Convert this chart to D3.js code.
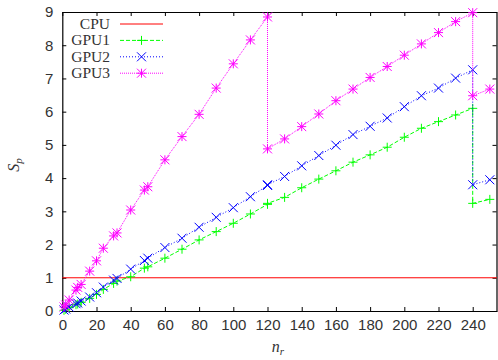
<!DOCTYPE html>
<html>
<head>
<meta charset="utf-8">
<script src="https://cdn.jsdelivr.net/npm/d3@7"></script>
<style>
  body { margin: 0; background: #fff; }
  svg { display: block; font-family: "Liberation Serif", "DejaVu Serif", serif; }
  .axis text { font-size: 15px; fill: #333; }
  .axis path, .axis line { stroke: #000; }
</style>
</head>
<body>
<script>
// speedup vs. number of replicas
const nr = [1, 2, 4, 8, 9, 11, 16, 20, 24, 30, 32, 40, 48, 50, 60, 70, 80, 90, 100, 110, 120,
  120, 130, 140, 150, 160, 170, 180, 190, 200, 210, 220, 230, 240, 240, 250]
const gpu1 = [0.02, 0.05, 0.1, 0.19, 0.21, 0.26, 0.38, 0.5, 0.65, 0.83, 0.9, 1.03, 1.29, 1.33, 1.59, 1.86, 2.14, 2.39, 2.64, 2.92, 3.21,
  3.24, 3.42, 3.71, 3.97, 4.22, 4.48, 4.70, 4.93, 5.23, 5.50, 5.70, 5.90, 6.10, 3.24, 3.36]
const gpu2 = [0.03, 0.06, 0.12, 0.22, 0.24, 0.3, 0.42, 0.55, 0.72, 0.93, 0.98, 1.26, 1.52, 1.59, 1.91, 2.19, 2.52, 2.82, 3.11, 3.44, 3.78,
  3.80, 4.05, 4.37, 4.68, 4.99, 5.31, 5.56, 5.81, 6.15, 6.48, 6.71, 7.01, 7.26, 3.80, 3.95]
const gpu3 = [0.12, 0.18, 0.33, 0.63, 0.71, 0.8, 1.2, 1.51, 1.89, 2.26, 2.35, 3.04, 3.64, 3.74, 4.55, 5.25, 5.92, 6.71, 7.44, 8.16, 8.85,
  4.88, 5.18, 5.55, 5.93, 6.33, 6.68, 7.03, 7.36, 7.70, 8.04, 8.38, 8.71, 8.98, 6.48, 6.68]
const cpu = 1

const xTicks = d3.range(0, 241, 20)
const yTicks = d3.range(0, 10, 1)

const W = 498, H = 360
const x = d3.scaleLinear().domain([0, 254.2]).range([62.3, 497])
const y = d3.scaleLinear().domain([0, 9]).range([311, 12])

const svg = d3.select("body").append("svg").attr("width", W).attr("height", H)

// axes (ticks inward, mirrored on top/right)
svg.append("g").attr("class", "axis")
  .attr("transform", "translate(0," + y(0) + ")")
  .call(d3.axisBottom(x).tickValues(xTicks).tickSizeInner(-4).tickSizeOuter(0).tickPadding(8))
svg.append("g").attr("class", "axis")
  .attr("transform", "translate(0," + y(9) + ")")
  .call(d3.axisTop(x).tickValues(xTicks).tickSizeInner(-4).tickSizeOuter(0).tickFormat(""))
svg.append("g").attr("class", "axis")
  .attr("transform", "translate(" + x(0) + ",0)")
  .call(d3.axisLeft(y).tickValues(yTicks).tickSizeInner(-4).tickSizeOuter(0).tickPadding(9))
svg.append("g").attr("class", "axis")
  .attr("transform", "translate(" + (x.range()[1] - 0.5) + ",0)")
  .call(d3.axisRight(y).tickValues(yTicks).tickSizeInner(-4).tickSizeOuter(0).tickFormat(""))

svg.selectAll(".axis path").attr("stroke-width", 1.2)
svg.selectAll(".axis text").style("font-size", "15px")

// axis titles
svg.append("text").attr("x", 278).attr("y", 352).attr("text-anchor", "middle")
  .style("font-size", "16px").style("font-style", "italic").attr("fill", "#333")
  .html('n<tspan dy="3" font-size="11px">r</tspan>')
svg.append("text").attr("transform", "translate(19,165) rotate(-90)").attr("text-anchor", "middle")
  .style("font-size", "16px").style("font-style", "italic").attr("fill", "#333")
  .html('S<tspan dy="3" font-size="11px">p</tspan>')

const plot = svg.append("g")

// CPU reference line
plot.append("line")
  .attr("x1", x(0)).attr("x2", x.range()[1])
  .attr("y1", y(cpu)).attr("y2", y(cpu))
  .attr("stroke", "#ff0000").attr("stroke-width", 1)

const series = [
  { name: "GPU1", vals: gpu1, color: "#00ff00", dash: "4,2", mark: "plus" },
  { name: "GPU2", vals: gpu2, color: "#0000ff", dash: "1,2", mark: "cross" },
  { name: "GPU3", vals: gpu3, color: "#ff00ff", dash: "1,1", mark: "star" },
]

const r = 4.5
function marker(g, kind, cx, cy, color) {
  const segs = []
  if (kind === "plus" || kind === "star") segs.push([-r, 0, r, 0], [0, -r, 0, r])
  if (kind === "cross" || kind === "star") segs.push([-r, -r, r, r], [-r, r, r, -r])
  segs.forEach(s => g.append("line")
    .attr("x1", cx + s[0]).attr("y1", cy + s[1]).attr("x2", cx + s[2]).attr("y2", cy + s[3])
    .attr("stroke", color).attr("stroke-width", 1))
}

const line = d3.line().x(d => x(d[0])).y(d => y(d[1]))

series.forEach(s => {
  const pts = nr.map((v, i) => [v, s.vals[i]])
  plot.append("path").datum(pts).attr("d", line)
    .attr("fill", "none").attr("stroke", s.color).attr("stroke-width", 1)
    .attr("stroke-dasharray", s.dash)
  const g = plot.append("g")
  pts.forEach(p => marker(g, s.mark, x(p[0]), y(p[1]), s.color))
})

// legend
const legend = svg.append("g")
const rows = [{ name: "CPU", color: "#ff0000", dash: null, mark: null }].concat(series)
rows.forEach((s, i) => {
  const ly = 24 + i * 16.4
  legend.append("text").attr("x", 110).attr("y", ly + 5).attr("text-anchor", "end")
    .style("font-size", "15.5px").attr("fill", "#333").text(s.name)
  legend.append("line").attr("x1", 120).attr("x2", 163).attr("y1", ly).attr("y2", ly)
    .attr("stroke", s.color).attr("stroke-width", 1)
    .attr("stroke-dasharray", s.dash)
  if (s.mark) marker(legend, s.mark, 141.5, ly, s.color)
})
</script>
</body>
</html>
